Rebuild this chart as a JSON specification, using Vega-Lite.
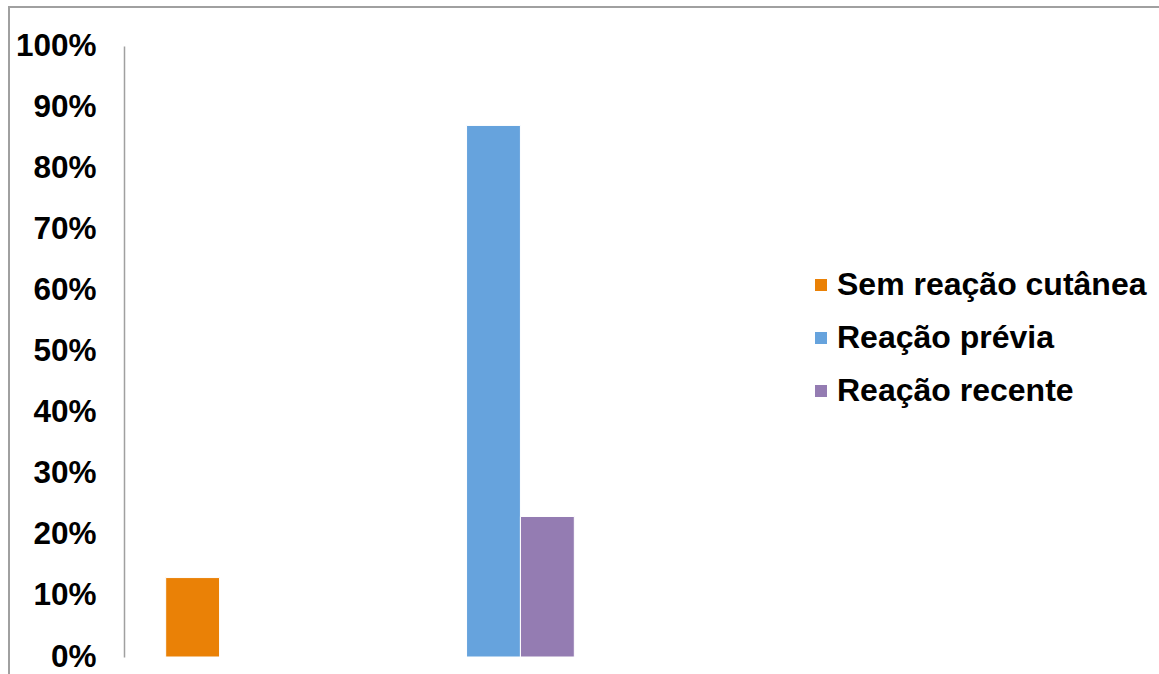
{
  "$schema": "https://vega.github.io/schema/vega-lite/v6.json",
  "width": 1155,
  "height": 672,
  "autosize": {"type": "none"},
  "padding": {"left": 9, "top": 7, "right": 0, "bottom": 0},
  "background": "#ffffff",
  "config": {
    "view": {"stroke": "#a0a0a0", "strokeWidth": 2},
    "font": "Liberation Sans"
  },
  "data": {
    "values": [
      {"grupo": "A", "serie": "Sem reação cutânea", "valor": 0.13},
      {"grupo": "B", "serie": "Reação prévia", "valor": 0.87},
      {"grupo": "B", "serie": "Reação recente", "valor": 0.23}
    ]
  },
  "mark": {"type": "bar", "stroke": "#ffffff", "strokeWidth": 1},
  "encoding": {
    "x": {
      "field": "grupo",
      "type": "nominal",
      "axis": null,
      "scale": {"range": [114, 608], "paddingInner": 0.3455, "paddingOuter": 0.1728}
    },
    "xOffset": {
      "field": "serie",
      "type": "nominal",
      "scale": {"domain": ["Sem reação cutânea", "Reação prévia", "Reação recente"]}
    },
    "y": {
      "field": "valor",
      "type": "quantitative",
      "scale": {"domain": [0, 1], "range": [650, 39], "nice": false, "zero": true},
      "axis": {
        "title": null,
        "values": [0, 0.1, 0.2, 0.3, 0.4, 0.5, 0.6, 0.7, 0.8, 0.9, 1],
        "format": ".0%",
        "grid": false,
        "ticks": false,
        "tickSize": 0,
        "offset": -115,
        "domainColor": "#a0a0a0",
        "domainWidth": 1.5,
        "labelFont": "Liberation Sans",
        "labelFontSize": 31.5,
        "labelFontWeight": "bold",
        "labelColor": "#000000",
        "labelPadding": 28,
        "labelOverlap": false,
        "labelFlush": false
      }
    },
    "color": {
      "field": "serie",
      "type": "nominal",
      "scale": {
        "domain": ["Sem reação cutânea", "Reação prévia", "Reação recente"],
        "range": ["#EA8106", "#66A3DD", "#947CB2"]
      },
      "legend": {
        "title": null,
        "orient": "none",
        "legendX": 796,
        "legendY": 262,
        "symbolType": "square",
        "symbolSize": 144,
        "symbolStrokeWidth": 0,
        "labelFont": "Liberation Sans",
        "labelFontSize": 32,
        "labelFontWeight": "bold",
        "labelColor": "#000000",
        "labelOffset": 0,
        "rowPadding": 21,
        "padding": 0,
        "labelLimit": 400
      }
    }
  }
}
